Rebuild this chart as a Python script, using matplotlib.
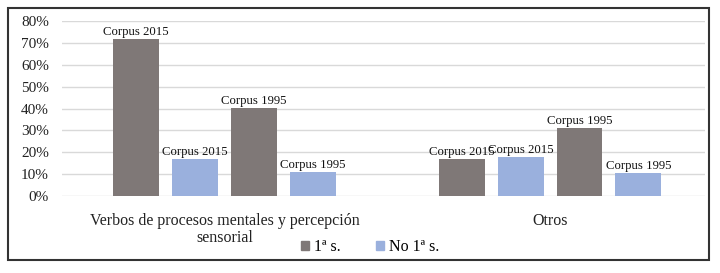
import matplotlib
matplotlib.use("Agg")
import matplotlib.pyplot as plt
from matplotlib.patches import Rectangle
from matplotlib.transforms import blended_transform_factory
import numpy as np

categories = ["Verbos de procesos mentales y percepción\nsensorial", "Otros"]
series_names = ["Corpus 2015", "Corpus 2015", "Corpus 1995", "Corpus 1995"]
series_kind = ["1ª s.", "No 1ª s.", "1ª s.", "No 1ª s."]
values = [
    [72.0, 17.1],   # Corpus 2015, 1ª s.
    [16.8, 17.7],   # Corpus 2015, No 1ª s.
    [40.1, 31.1],   # Corpus 1995, 1ª s.
    [11.1, 10.5],   # Corpus 1995, No 1ª s.
]
yticks = [0, 10, 20, 30, 40, 50, 60, 70, 80]
ytick_labels = ["0%", "10%", "20%", "30%", "40%", "50%", "60%", "70%", "80%"]

colors = {"1ª s.": "#7f7877", "No 1ª s.": "#9ab0dd"}

plt.rcParams['font.family'] = ['Liberation Serif', 'DejaVu Serif']

W, H = 720, 273
fig = plt.figure(figsize=(W / 100, H / 100), dpi=100)
ax = fig.add_axes([62 / W, 1 - 196 / H, (705 - 62) / W, (196 - 21) / H])

x = np.arange(len(categories))
pitch = 0.181
width = 0.141
offsets = [-1.5, -0.5, 0.5, 1.5]
for i, (name, kind, vals) in enumerate(zip(series_names, series_kind, values)):
    pos = x + offsets[i] * pitch
    bars = ax.bar(pos, vals, width=width, color=colors[kind], zorder=3)
    for b in bars:
        ax.text(b.get_x() + b.get_width() / 2, b.get_height() + 0.4, name,
                ha="center", va="bottom", fontsize=9.2, color="#111111", zorder=4)

ax.set_ylim(0, 80)
ax.set_xlim(-0.4992, 1.476)
ax.set_yticks(yticks)
ax.set_yticklabels(ytick_labels, fontsize=11)
ax.set_xticks(x)
first_lines = [c.split("\n")[0] for c in categories]
ax.set_xticklabels(first_lines, fontsize=11.5)
ax.tick_params(axis="both", length=0, colors="#222222")
ax.tick_params(axis="x", pad=12)
ax.tick_params(axis="y", pad=9.5)
ax.grid(axis="y", color="#d9d9d9", linewidth=1.0, zorder=0)
for s in ax.spines.values():
    s.set_visible(False)

# continuation lines of wrapped category labels
trans = blended_transform_factory(ax.transData, ax.transAxes)
for xi, c in zip(x, categories):
    rest = c.split("\n")[1:]
    for k, line in enumerate(rest):
        ax.text(xi, -(238 - 196) / 175 - k * 0.1, line, transform=trans,
                ha="center", va="center", fontsize=11.5, color="#222222")

handles = [Rectangle((0, 0), 1, 1, color=colors["1ª s."]),
           Rectangle((0, 0), 1, 1, color=colors["No 1ª s."])]
fig.legend(handles, ["1ª s.", "No 1ª s."], loc="center", bbox_to_anchor=(370 / W, 1 - 247 / H),
           ncol=2, frameon=False, fontsize=11.5, handlelength=0.5, handleheight=0.5,
           handletextpad=0.3, columnspacing=2.2)

fig.patches.append(Rectangle((8 / W, 1 - 260 / H), (709 - 8) / W, (260 - 8) / H,
                             transform=fig.transFigure, fill=False,
                             edgecolor="#333333", linewidth=1.5))

fig.savefig("out.png", dpi=100)
